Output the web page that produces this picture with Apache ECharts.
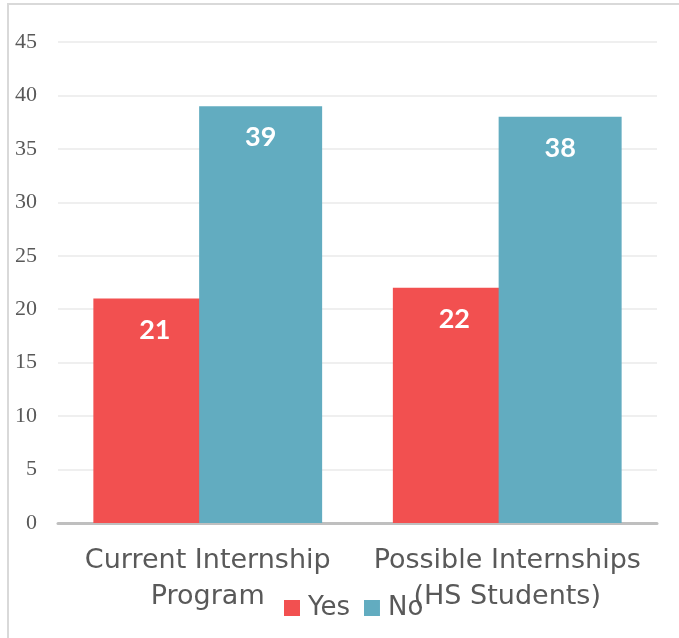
<!DOCTYPE html>
<html>
<head>
<meta charset="utf-8">
<script src="https://cdn.jsdelivr.net/npm/echarts@6/dist/echarts.min.js"></script>
<style>
    html, body { margin: 0; padding: 0; background: #fff; }
    #chart { width: 679px; height: 638px; }
</style>
</head>
<body>
<div id="chart"></div>
<script>
var categories = ['Current Internship\nProgram', 'Possible Internships\n(HS Students)'];
var yesValues = [21, 22];
var noValues = [39, 38];
var seriesNames = ['Yes', 'No'];

var textColor = '#595959';
var sansFont = '"DejaVu Sans", sans-serif';

var option = {
    animation: false,
    graphic: [
        {
            type: 'rect',
            shape: { x: 8, y: 4, width: 700, height: 700 },
            style: { fill: 'none', stroke: '#d9d9d9', lineWidth: 2 },
            silent: true
        }
    ],
    grid: {
        left: 58,
        right: 22,
        top: 42,
        bottom: 115,
        containLabel: false,
        outerBoundsMode: 'none'
    },
    legend: {
        data: seriesNames,
        left: 279,
        top: 588,
        itemWidth: 16,
        itemHeight: 16,
        itemGap: 14,
        icon: 'rect',
        textStyle: {
            color: textColor,
            fontFamily: sansFont,
            fontSize: 26,
            lineHeight: 30,
            padding: [0, 0, 0, 3]
        }
    },
    xAxis: {
        type: 'category',
        data: categories,
        axisTick: { show: false },
        axisLine: { lineStyle: { color: '#bfbfbf', width: 3 } },
        axisLabel: {
            color: textColor,
            fontFamily: sansFont,
            fontSize: 27,
            lineHeight: 36,
            margin: 20,
            interval: 0
        }
    },
    yAxis: {
        type: 'value',
        min: 0,
        max: 45,
        interval: 5,
        axisLine: { show: false },
        axisTick: { show: false },
        axisLabel: {
            color: textColor,
            fontFamily: '"Liberation Serif", serif',
            fontSize: 22,
            margin: 21
        },
        splitLine: { lineStyle: { color: '#efefef', width: 2 } }
    },
    series: [
        {
            name: seriesNames[0],
            type: 'bar',
            data: yesValues,
            barWidth: 123,
            barGap: '-14%',
            itemStyle: { color: '#f25050' },
            label: {
                show: true,
                position: 'insideTop',
                distance: 18,
                color: '#fff',
                fontFamily: 'Lato, sans-serif',
                fontWeight: 'bold',
                fontSize: 27
            }
        },
        {
            name: seriesNames[1],
            type: 'bar',
            data: noValues,
            barWidth: 123,
            barGap: '-14%',
            itemStyle: { color: '#62acc0' },
            label: {
                show: true,
                position: 'insideTop',
                distance: 18,
                color: '#fff',
                fontFamily: 'Lato, sans-serif',
                fontWeight: 'bold',
                fontSize: 27
            }
        }
    ]
};

var myChart = echarts.init(document.getElementById('chart'));
myChart.setOption(option);
</script>
</body>
</html>
